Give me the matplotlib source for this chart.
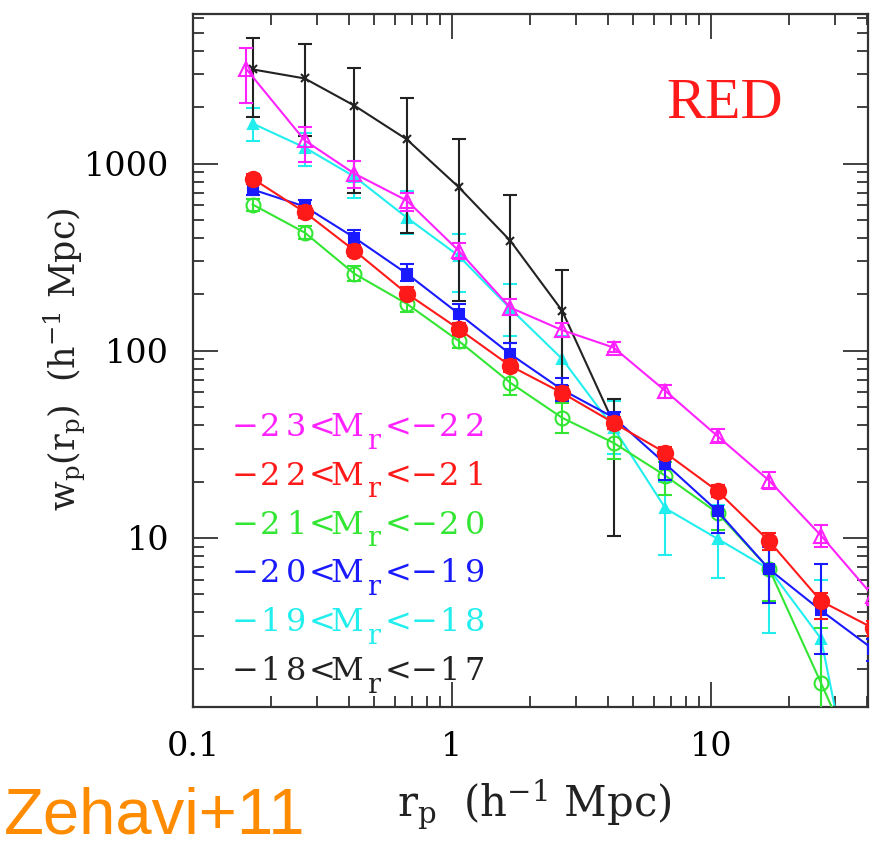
import numpy as np
import matplotlib.pyplot as plt
from matplotlib.ticker import LogLocator, NullFormatter
from matplotlib.transforms import offset_copy

plt.rcParams['font.family'] = 'DejaVu Serif'
plt.rcParams['mathtext.fontset'] = 'custom'
plt.rcParams['mathtext.rm'] = 'DejaVu Serif'
plt.rcParams['mathtext.it'] = 'DejaVu Serif:italic'

# projected separation bins (h^-1 Mpc)
rp = [0.17, 0.27, 0.42, 0.67, 1.06, 1.68, 2.66, 4.21, 6.67, 10.6, 16.8, 26.6, 42.2]
rp_m = [0.16, 0.27, 0.42, 0.67, 1.06, 1.68, 2.66, 4.21, 6.67, 10.6, 16.8, 26.6, 42.2]

# -23<Mr<-22
wp_m = [3220, 1330, 884, 634, 343, 170, 129, 104, 61, 35, 20.2, 10.3, 4.9]
lo_m = [2120, 1025, 744, 561, 310, 155, 119, 98, 56, 32.5, 18.3, 8.9, 4.4]
hi_m = [4170, 1560, 1037, 700, 375, 190, 140, 111, 66, 38, 22.5, 11.8, 5.4]
# -22<Mr<-21
wp_r = [831, 550, 343, 202, 131, 83, 59.6, 41.2, 28.5, 17.8, 9.6, 4.6, 3.3]
lo_r = [780, 515, 320, 188, 122, 77, 55, 38, 26.5, 16.5, 8.6, 3.7, 3.0]
hi_r = [885, 590, 368, 218, 140, 89, 64, 44.5, 30.5, 19.2, 10.6, 5.1, 3.6]
# -21<Mr<-20
wp_g = [604, 428, 258, 178, 113, 67.5, 43.9, 32.2, 21.5, 13.6, 6.8, 1.68, 0.4]
lo_g = [560, 395, 235, 162, 103, 58, 36.5, 26.3, 17.0, 11.0, 4.6, 0.5, 0.2]
hi_g = [650, 465, 285, 196, 124, 78, 52.5, 38, 25.5, 16.5, 8.6, 3.3, 0.6]
# -20<Mr<-19
wp_b = [727, 590, 402, 258, 158, 96, 62, 44, 24.9, 13.9, 6.8, 4.1, 2.55]
lo_b = [680, 545, 365, 235, 140, 84, 54, 38, 20.5, 10.6, 4.5, 2.4, 2.2]
hi_b = [775, 640, 440, 292, 178, 110, 71.5, 47, 29.5, 17.5, 9.0, 7.3, 2.9]
# -19<Mr<-18
wp_c = [1637, 1218, 852, 514, 322, 168, 90.6, 38.7, 14.4, 9.9, 6.8, 2.9, 0.12]
lo_c = [1327, 975, 658, 423, 207, 120, 65, 28, 8.1, 6.1, 3.1, 0.5, 0.05]
hi_c = [1970, 1450, 1037, 717, 423, 226, 120, 54, 20, 15, 9.5, 6.0, 0.2]
# -18<Mr<-17
wp_k = [3185, 2850, 2040, 1345, 750, 387, 164, 41]
lo_k = [1763, 1410, 700, 428, 185, 110, 65, 10.2]
hi_k = [4660, 4380, 3260, 2250, 1360, 682, 271, 55.5]

# magnitude ranges shown as  lo<M_r<hi
mag_lo = ['\u221223', '\u221222', '\u221221', '\u221220', '\u221219', '\u221218']
mag_hi = ['\u221222', '\u221221', '\u221220', '\u221219', '\u221218', '\u221217']
colors = ['#ff22ff', '#ff1a1a', '#33e633', '#1a1aff', '#22eeee', '#222222']

fig = plt.figure(figsize=(8.8, 8.41), dpi=100)
ax = fig.add_axes([0.2193, 0.1593, 0.7671, 0.8241])

# (x, y, lo, hi, color, marker, size, filled, zorder)
series = [
    (rp, wp_c, lo_c, hi_c, colors[4], '^', 7, True, 2),
    (rp[:len(wp_k)], wp_k, lo_k, hi_k, colors[5], 'x', 6, True, 3),
    (rp_m, wp_m, lo_m, hi_m, colors[0], '^', 10, False, 4),
    (rp, wp_g, lo_g, hi_g, colors[2], 'o', 10, False, 5),
    (rp, wp_b, lo_b, hi_b, colors[3], 's', 7, True, 6),
    (rp, wp_r, lo_r, hi_r, colors[1], 'o', 11, True, 7),
]
for x, y, lo, hi, c, mk, ms, filled, z in series:
    y = np.array(y)
    err = [y - np.array(lo), np.array(hi) - y]
    ax.errorbar(x, y, yerr=err, color=c, marker=mk, ms=ms,
                mfc=c if filled else 'none', mec=c, mew=1.5, lw=1.5,
                elinewidth=1.5, capsize=5, capthick=1.5, zorder=z)

ax.set_xscale('log')
ax.set_yscale('log')
ax.set_xlim(0.1, 40.4)
ax.set_ylim(1.25, 6300)

ax.set_xticks([0.1, 1, 10], labels=['0.1', '1', '10'])
ax.set_yticks([10, 100, 1000], labels=['10', '100', '1000'])
ax.xaxis.set_minor_locator(LogLocator(base=10, subs=np.arange(2, 10)))
ax.yaxis.set_minor_locator(LogLocator(base=10, subs=np.arange(2, 10)))
ax.xaxis.set_minor_formatter(NullFormatter())
ax.yaxis.set_minor_formatter(NullFormatter())
ax.tick_params(which='both', direction='in', top=True, right=True,
               color='#333333', width=1.3, labelsize=24)
ax.tick_params(which='major', length=18, pad=17)
ax.tick_params(which='minor', length=8)
for s in ax.spines.values():
    s.set_linewidth(1.6)
    s.set_color('#333333')

ax.text(-0.19, 0.502, r'$\mathrm{w_p(r_p)\ \ (h^{-1}\ Mpc)}$', transform=ax.transAxes,
        rotation=90, ha='center', va='center', fontsize=25, color='#222222')
ax.text(0.505, -0.141, r'$\mathrm{r_p\ \ (h^{-1}\ Mpc)}$', transform=ax.transAxes,
        ha='center', va='center', fontsize=30, color='#222222')

ax.text(0.788, 0.850, 'RED', transform=ax.transAxes, ha='center', va='baseline',
        fontsize=42, color='#ff1a1a', family='Liberation Serif')

# typewriter-style labels: each character in a fixed cell, subscript r in its own cell
fs = 23
cell = 18.4
for i, (a, b, c) in enumerate(zip(mag_lo, mag_hi, colors)):
    base = 436 + 48.8 * i
    y = (707 - base) / 693
    head = list(a + '<M')
    chars = head + ['r'] + list('<' + b)
    for k, ch in enumerate(chars):
        sub = (k == len(head))
        tr = offset_copy(ax.transAxes, fig=fig, x=(k + 0.5) * cell + (1 if sub else 0),
                         y=-9 if sub else 0, units='points')
        ax.text(0.058, y, ch, transform=tr, ha='center', va='baseline',
                fontsize=fs * 0.85 if sub else fs, color=c)

fig.text(0.004, 0.009, 'Zehavi+11', ha='left', va='baseline', fontsize=47,
         color='#ff8c00', family='Liberation Sans')

fig.savefig('out.png', dpi=100)
